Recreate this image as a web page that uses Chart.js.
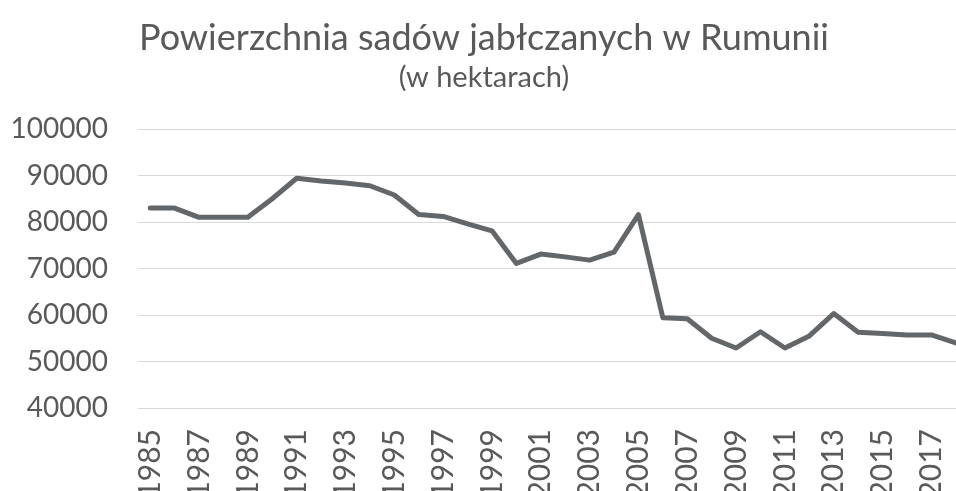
<!DOCTYPE html>
<html>
<head>
<meta charset="utf-8">
<script src="https://cdn.jsdelivr.net/npm/chart.js@4"></script>
<style>
  html, body { margin: 0; padding: 0; background: #fff; overflow: hidden; }
</style>
</head>
<body>
<canvas id="chart" width="972" height="491"></canvas>
<script>
const years = [
  "1985", "1986", "1987", "1988", "1989", "1990", "1991", "1992", "1993", "1994",
  "1995", "1996", "1997", "1998", "1999", "2000", "2001", "2002", "2003", "2004",
  "2005", "2006", "2007", "2008", "2009", "2010", "2011", "2012", "2013", "2014",
  "2015", "2016", "2017", "2018",
];
const area = [
  83000, 83000, 81000, 81000, 81000, 85000, 89400, 88800, 88400, 87800,
  85800, 81600, 81200, 79600, 78100, 71100, 73100, 72500, 71800, 73500,
  81600, 59400, 59200, 55000, 52900, 56400, 52900, 55500, 60300, 56300,
  56000, 55700, 55700, 54000,
];
const yTicks = [40000, 50000, 60000, 70000, 80000, 90000, 100000];

const textColor = "#595959";
const fontName = "Lato";

const ctx = document.getElementById("chart").getContext("2d");

new Chart(ctx, {
  type: "line",
  data: {
    labels: years,
    datasets: [
      {
        data: area,
        borderColor: "#63676a",
        borderWidth: 5,
        pointRadius: 0,
        tension: 0,
        borderJoinStyle: "round",
        borderCapStyle: "round",
        fill: false,
      },
    ],
  },
  options: {
    responsive: false,
    animation: false,
    layout: { padding: { left: 0, right: 4, top: 0, bottom: 0 } },
    plugins: {
      legend: { display: false },
      tooltip: { enabled: false },
      title: {
        display: true,
        text: "Powierzchnia sadów jabłczanych w Rumunii",
        color: textColor,
        font: { family: fontName, size: 36, weight: "normal" },
        padding: { top: 17, bottom: 0 },
      },
      subtitle: {
        display: true,
        text: "(w hektarach)",
        color: textColor,
        font: { family: fontName, size: 29, weight: "normal" },
        padding: { top: 0, bottom: 34 },
      },
    },
    scales: {
      x: {
        offset: true,
        grid: { display: false, drawTicks: false },
        border: { display: false },
        afterFit: (scale) => {
          scale.height = 83;
          scale.paddingLeft = 0;
          scale.paddingRight = 0;
        },
        ticks: {
          autoSkip: false,
          minRotation: 90,
          maxRotation: 90,
          padding: 21,
          color: textColor,
          font: { family: fontName, size: 30 },
          callback: (value, index) => (index % 2 === 0 ? years[index] : ""),
        },
      },
      y: {
        min: yTicks[0],
        max: yTicks[yTicks.length - 1],
        afterBuildTicks: (scale) => {
          scale.ticks = yTicks.map((v) => ({ value: v }));
        },
        afterFit: (scale) => {
          scale.width = 138;
          scale.paddingTop = 0;
          scale.paddingBottom = 0;
        },
        grid: { color: "#d9d9d9", lineWidth: 1, drawTicks: false },
        border: { display: false },
        ticks: {
          padding: 30,
          color: textColor,
          font: { family: fontName, size: 28 },
          callback: (value) => String(value),
        },
      },
    },
  },
});
</script>
</body>
</html>
